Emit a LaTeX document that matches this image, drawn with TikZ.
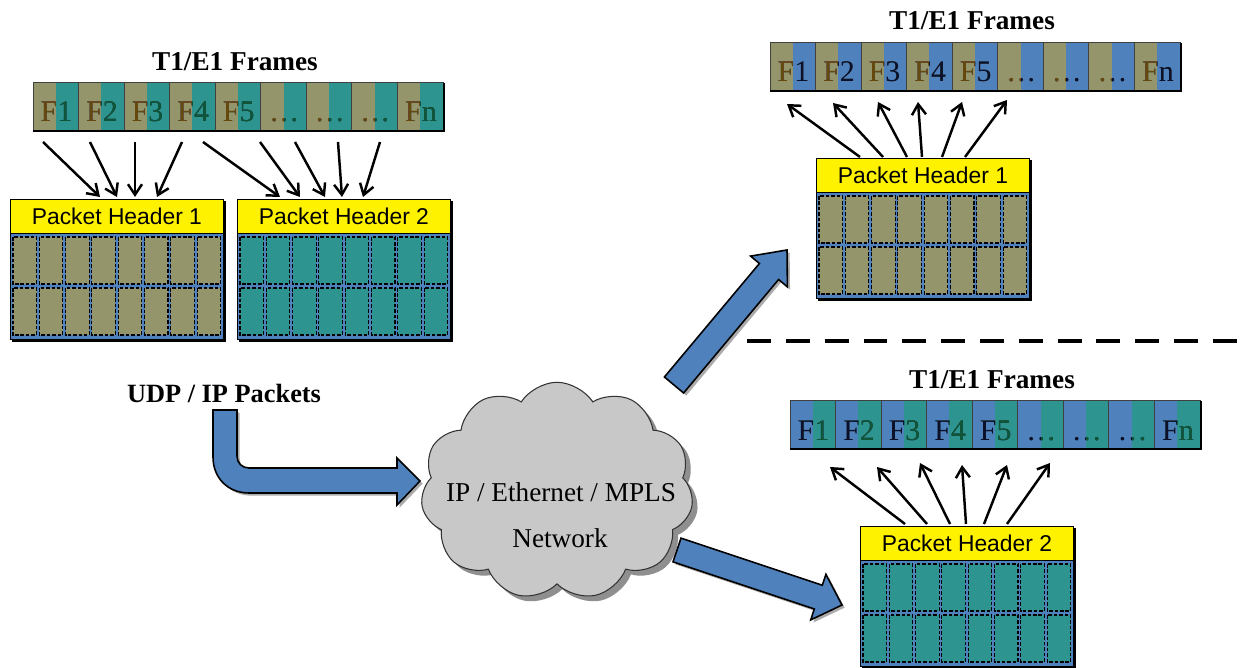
\documentclass[tikz,border=0pt]{standalone}
\usepackage{fontspec}
\setmainfont{Liberation Serif}
\newfontfamily\hdrfont{Liberation Sans}
\usetikzlibrary{shapes.symbols,shadows,arrows.meta,calc}

\definecolor{olive}{RGB}{149,149,107}
\definecolor{tealcell}{RGB}{46,148,144}
\definecolor{pktblue}{RGB}{79,129,189}
\definecolor{txtbrown}{RGB}{100,72,14}
\definecolor{txtgreen}{RGB}{16,84,58}
\definecolor{txtnavy}{RGB}{12,16,40}
\definecolor{cloudgray}{RGB}{200,200,200}

\newcommand\celldots{\ldots}

% one row of nine frame slots, every slot split into two colours;
% the black label is tinted per half by a lighten-blended overlay
% #1 name, #2 x, #3 y, #4/#5 left/right fill, #6/#7 left/right text colour
\newcommand\framebar[7]{%
  \foreach \lab [count=\bi from 0] in {F1,F2,F3,F4,F5,\celldots,\celldots,\celldots,Fn}{
    \pgfmathsetmacro\cx{#2+\bi*45.56}
    \fill[#4] (\cx,#3) rectangle ++(22.78,48);
    \fill[#5] (\cx+22.78,#3) rectangle ++(22.78,48);
    \node[barlabel] (#1-\bi) at (\cx+23.5,#3+40) {\lab};
    \begin{scope}[blend mode=lighten]
      \fill[#6] (\cx,#3) rectangle ++(22.78,48);
      \fill[#7] (\cx+22.78,#3) rectangle ++(22.78,48);
    \end{scope}
    \draw[barline] (\cx,#3) -- ++(0,48);
  }
  \draw[barline] (#2,#3) rectangle ++(410,48);
  \draw[barshadow] (#2,#3+49) -- ++(411,0) -- ++(0,-48);
}

% packet: yellow header over a 2 x 8 grid of payload slots
% #1 name, #2 x, #3 y, #4 slot fill, #5 header text
\newcommand\packetbox[5]{%
  \fill[black] (#2+2,#3+2) rectangle (#2+215.5,#3+143);
  \fill[pktblue] (#2,#3) rectangle (#2+213,#3+140);
  \foreach \cc in {0,...,7}{
    \foreach \rr in {0,1}{
      \draw[slot, fill=#4] (#2+3+\cc*26.3,#3+38+\rr*51) rectangle ++(23.5,47);
    }
  }
  \draw[black, line width=0.5pt] (#2,#3) rectangle (#2+213,#3+140);
  \node[hdr, anchor=north west] (#1) at (#2,#3) {#5};
}

\begin{document}
\begin{tikzpicture}[x=0.02cm, y=-0.02cm,
  barlabel/.style={anchor=base, inner sep=0pt, text=black, font=\fontsize{17}{20}\selectfont},
  barline/.style={draw=black!75, line width=0.5pt},
  barshadow/.style={draw=black, line width=1.6pt},
  bartitle/.style={inner sep=0pt, font=\bfseries\fontsize{15.5}{18}\selectfont},
  hdr/.style={draw=black, line width=0.5pt, fill=yellow, minimum width=4.26cm,
    minimum height=0.68cm, inner sep=0pt, font=\hdrfont\fontsize{13}{15}\selectfont},
  slot/.style={draw=black, line width=0.6pt, dash pattern=on 2pt off 1.1pt},
  feed/.style={-{Straight Barb[length=6pt,width=8pt]}, line width=1.4pt, black},
  blockarrow/.style={fill=pktblue, draw=black, line width=0.9pt, line join=miter,
    drop shadow={shadow xshift=1.5pt, shadow yshift=-1.5pt, fill=black!55, opacity=0.6}},
  cloudtext/.style={inner sep=0pt, font=\fontsize{15.5}{18}\selectfont},
]
\useasboundingbox (0,0) rectangle (1243,668);
\fill[white] (0,0) rectangle (1243,668);

% ---------- ingress side ----------
\node[bartitle] (ttl-in) at (235,62) {T1/E1 Frames};
\framebar{inbar}{33}{82}{olive}{tealcell}{txtbrown}{txtgreen}

\packetbox{hdr-in1}{10}{199}{olive}{Packet Header 1}
\packetbox{hdr-in2}{237}{199}{tealcell}{Packet Header 2}

\foreach \sx/\ex [count=\q] in {43/100, 90/117, 135/135, 182/157}{
  \coordinate (pa\q-s) at (\sx,142);
  \coordinate (pa\q-e) at (\ex,197);
  \draw[feed] (pa\q-s) -- (pa\q-e);
}
\foreach \sx/\ex [count=\q] in {203/280, 260/300, 295/325, 338/342, 380/363}{
  \coordinate (pb\q-s) at (\sx,142);
  \coordinate (pb\q-e) at (\ex,197);
  \draw[feed] (pb\q-s) -- (pb\q-e);
}

\node[inner sep=0pt, font=\bfseries\fontsize{15}{18}\selectfont] (udp) at (224,393) {UDP / IP Packets};

% bent arrow into the network
\draw[blockarrow] (213,410) -- (213,457) .. controls (213,478) and (228,493) .. (249,493)
  -- (397,493) -- (397,505) -- (420,481) -- (397,458) -- (397,468) -- (249,468)
  .. controls (242,468) and (237,463) .. (237,456) -- (237,410) -- cycle;

% ---------- network ----------
\node[cloud, cloud puffs=11, cloud puff arc=115, aspect=1.26, draw=black!80, line width=0.6pt,
  fill=cloudgray, minimum width=5.45cm, minimum height=4.35cm,
  drop shadow={shadow xshift=3pt, shadow yshift=-3pt, fill=black!55, opacity=0.8}]
  (net) at (557,491) {};
\node[cloudtext] (net-a) at (561,492) {IP / Ethernet / MPLS};
\node[cloudtext] (net-b) at (560,538) {Network};

% arrows out of the network
\draw[blockarrow] (683.6,393.0) -- (778.6,279.5) -- (787.4,286.9) -- (787,250)
  -- (750.6,256.1) -- (759.4,263.5) -- (664.4,377.0) -- cycle;
\draw[blockarrow] (681.0,538.1) -- (822.3,585.2) -- (825.9,574.3) -- (842,605)
  -- (810.7,619.9) -- (814.3,609.0) -- (673.0,561.9) -- cycle;

% ---------- egress, upper ----------
\node[bartitle] (ttl-out1) at (972,21) {T1/E1 Frames};
\framebar{outbar1}{770}{42}{olive}{pktblue}{txtbrown}{txtnavy}
\packetbox{hdr-out1}{816}{158}{olive}{Packet Header 1}
\foreach \sx/\ex/\ey [count=\q] in {860/787/104, 883/833/103, 907/878/102, 922/918/102, 942/962/102, 965/1007/100}{
  \coordinate (pc\q-s) at (\sx,157);
  \coordinate (pc\q-e) at (\ex,\ey);
  \draw[feed] (pc\q-s) -- (pc\q-e);
}

\draw[black, line width=2.8pt, dash pattern=on 13.6pt off 8.5pt] (747,341) -- (1243,341);

% ---------- egress, lower ----------
\node[bartitle] (ttl-out2) at (992,380) {T1/E1 Frames};
\framebar{outbar2}{790}{400}{pktblue}{tealcell}{txtnavy}{txtgreen}
\packetbox{hdr-out2}{860}{526}{tealcell}{Packet Header 2}
\foreach \sx/\ex/\ey [count=\q] in {905/830/467, 927/877/467, 950/920/463, 966/962/465, 984/1007/465, 1007/1050/463}{
  \coordinate (pd\q-s) at (\sx,524);
  \coordinate (pd\q-e) at (\ex,\ey);
  \draw[feed] (pd\q-s) -- (pd\q-e);
}
\end{tikzpicture}
\end{document}
